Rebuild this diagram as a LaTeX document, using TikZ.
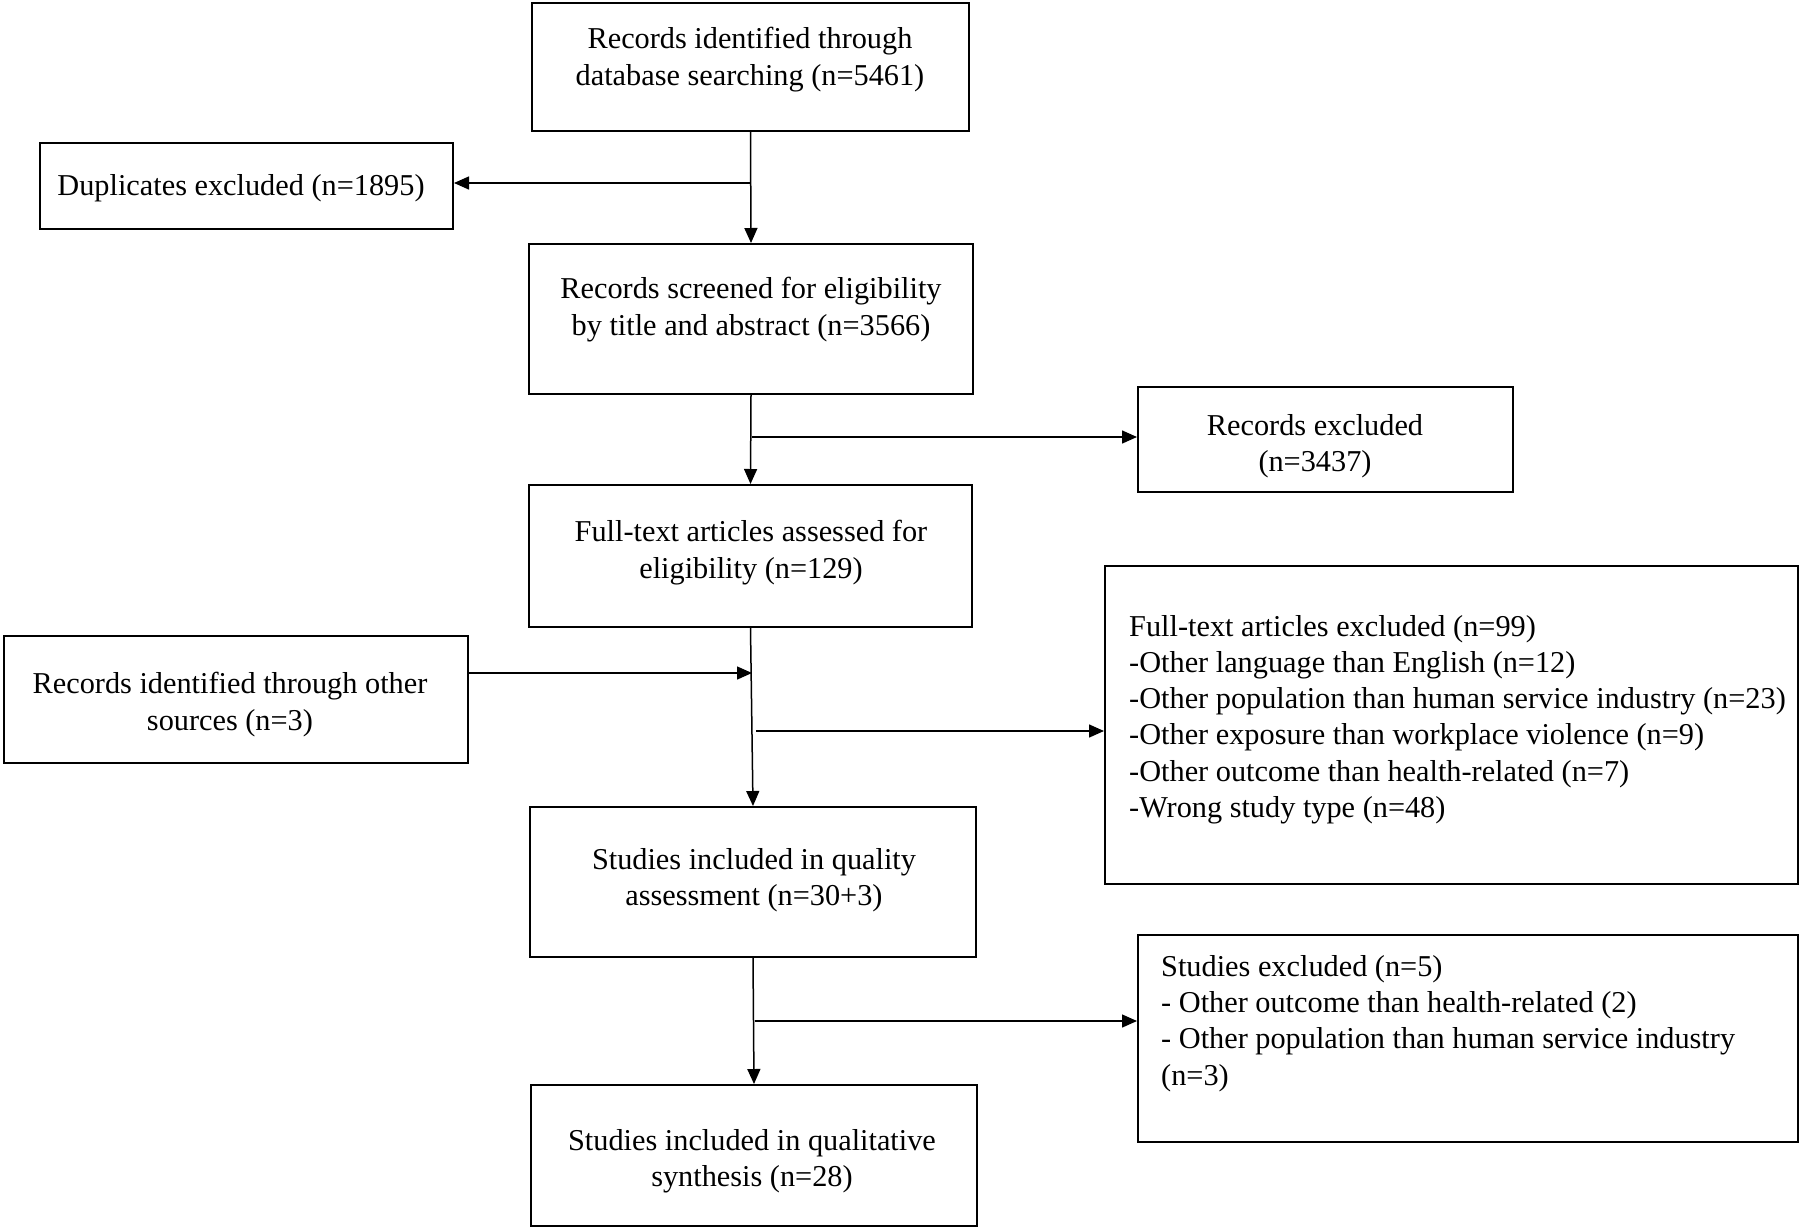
\documentclass[tikz,border=0pt]{standalone}
\usepackage{fontspec}
\setmainfont{Liberation Serif}
\usetikzlibrary{arrows.meta}
\begin{document}
\begin{tikzpicture}[x=1pt,y=-1pt,
  box/.style={draw, line width=2pt, inner sep=0pt, anchor=north west},
  txt/.style={inner sep=0pt, align=center, yshift=-3.5pt, font=\fontsize{30.3}{36.3}\selectfont},
  ltxt/.style={inner sep=0pt, align=left, anchor=west, yshift=-3.5pt, font=\fontsize{30.3}{36.3}\selectfont},
  arr/.style={line width=1.5pt, -{Triangle[length=15pt,width=13pt]}}]
\useasboundingbox (0,0) rectangle (1800,1229);
% boxes
\node[box, minimum width=437pt, minimum height=128pt] (A) at (531,2) {};
\node[box, minimum width=413pt, minimum height=86pt] (Dup) at (39,142) {};
\node[box, minimum width=444pt, minimum height=150pt] (B) at (528,243) {};
\node[box, minimum width=375pt, minimum height=105pt] (C) at (1137,386) {};
\node[box, minimum width=443pt, minimum height=142pt] (D) at (528,484) {};
\node[box, minimum width=693pt, minimum height=318pt] (E) at (1104,565) {};
\node[box, minimum width=464pt, minimum height=127pt] (F) at (3,635) {};
\node[box, minimum width=446pt, minimum height=150pt] (G) at (529,806) {};
\node[box, minimum width=660pt, minimum height=207pt] (H) at (1137,934) {};
\node[box, minimum width=446pt, minimum height=141pt] (I) at (530,1084) {};
% texts
\node[txt] (At) at (750,56) {Records identified through\\database searching (n=5461)};
\node[txt] (Dupt) at (241,185) {Duplicates excluded (n=1895)};
\node[txt] (Bt) at (751,306) {Records screened for eligibility\\by title and abstract (n=3566)};
\node[txt] (Ct) at (1315,443) {Records excluded\\(n=3437)};
\node[txt] (Dt) at (751,549) {Full-text articles assessed for\\eligibility (n=129)};
\node[ltxt] (Et) at (1129,716) {Full-text articles excluded (n=99)\\-Other language than English (n=12)\\-Other population than human service industry (n=23)\\-Other exposure than workplace violence (n=9)\\-Other outcome than health-related (n=7)\\-Wrong study type (n=48)};
\node[txt] (Ft) at (230,701) {Records identified through other\\sources (n=3)};
\node[txt] (Gt) at (754,877) {Studies included in quality\\assessment (n=30+3)};
\node[ltxt] (Ht) at (1161,1020) {Studies excluded (n=5)\\- Other outcome than health-related (2)\\- Other population than human service industry\\(n=3)};
\node[txt] (It) at (752,1158) {Studies included in qualitative\\synthesis (n=28)};
% junctions
\coordinate (j1) at (750,183);
\coordinate (j2) at (752,437);
\coordinate (j3) at (752,673);
\coordinate (j4) at (756,731);
\coordinate (j5) at (755,1021);
% connectors
\draw[arr] (A.south) -- (B.north);
\draw[arr] (j1) -- (Dup.east |- j1);
\draw[arr] (B.south) -- (D.north);
\draw[arr] (j2) -- (C.west |- j2);
\draw[arr] (D.south) -- (G.north);
\draw[arr] (F.east |- j3) -- (j3);
\draw[arr] (j4) -- (E.west |- j4);
\draw[arr] (G.south) -- (I.north);
\draw[arr] (j5) -- (H.west |- j5);
\end{tikzpicture}
\end{document}
